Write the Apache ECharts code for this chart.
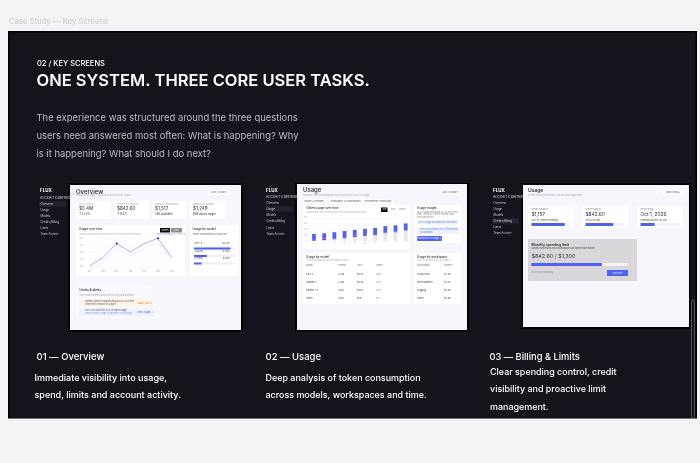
<!DOCTYPE html>
<html>
<head>
<meta charset="utf-8">
<style>
  html, body { margin: 0; padding: 0; background: #f4f3f6; }
  #main { width: 700px; height: 463px; }
</style>
<script src="https://cdn.jsdelivr.net/npm/echarts@6/dist/echarts.min.js"></script>
</head>
<body>
<div id="main"></div>
<script>
// slide copy
var bodyLines = ['The experience was structured around the three questions', 'users need answered most often: What is happening? Why', 'is it happening? What should I do next?'];
var overviewText = ['Immediate visibility into usage,', 'spend, limits and account activity.'];
var usageText = ['Deep analysis of token consumption', 'across models, workspaces and time.'];
var billingText = ['Clear spending control, credit', 'visibility and proactive limit', 'management.'];
var navItems = ['Overview', 'Usage', 'Models', 'Credits/Billing', 'Limits', 'Team Activity'];

// overview line chart
var lineMonths = ['Oct', 'Nov', 'Dec', 'Jan', 'Feb', 'Mar', 'Apr'];
var lineTokens = [100, 220, 420, 300, 420, 495, 220];
var lineLastPeriod = [30, 150, 350, 240, 350, 440, 170];
var lineTicks = [100, 200, 300, 400, 500];
var lineMarked = [2, 5];

// usage stacked bars
var barDays = ['1', '2', '3', '4', '5', '6', '7', '', '', ''];
var barBase = [5, 15, 30, 45, 65, 85, 100, 130, 145, 175];
var barCached = [25, 22, 15, 18, 22, 18, 18, 10, 12, 8];
var barTokens = [88, 92, 102, 104, 98, 100, 100, 108, 105, 110];

// progress bars, percent
var modelShare = [87, 31, 18];
var billingProgress = [85, 71, 36];
var limitProgress = [73];

// tables
var modelRows = [['GPT-5', '3.2M', '$252', '30%'], ['Claude 3', '2.8M', '$230', '27%'], ['Gemini 1.5', '1.6M', '$184', '22%'], ['Other', '1.4M', '$76', '9%']];
var workspaceRows = [['Production', '$3.8K'], ['Development', '$1.3K'], ['Staging', '$0.9K'], ['Other', '$0.6K']];

var FONT = 'Inter, "Noto Sans", sans-serif';
var BLUE = '#4f63f0';
var els = [], grids = [], xAxes = [], yAxes = [], series = [];

function rect(x, y, w, h, fill, r, z) {
    els.push({ type: 'rect', z: z || 0, shape: { x: x, y: y, width: w, height: h, r: r || 0 }, style: { fill: fill } });
}
function text(x, y, str, size, color, weight, align, glow) {
    els.push({
        type: 'text', z: 5, x: x, y: y,
        style: {
            text: str, fill: color, align: align || 'left', verticalAlign: 'middle',
            font: (weight || 400) + ' ' + size + 'px ' + FONT,
            shadowColor: glow ? '#000' : 'transparent', shadowBlur: glow ? 3 : 0
        }
    });
}
function progress(x, y, w, h, val, track) {
    var i = grids.length;
    grids.push({ left: x, top: y, width: w, height: h, containLabel: false });
    xAxes.push({ gridIndex: i, type: 'value', min: 0, max: 100, show: false });
    yAxes.push({ gridIndex: i, type: 'category', data: [''], show: false });
    series.push({
        type: 'bar', xAxisIndex: i, yAxisIndex: i, data: [val], barWidth: h, silent: true,
        showBackground: true, backgroundStyle: { color: track }, itemStyle: { color: BLUE }
    });
}
function sidebar(x, ys, active, hx, hw) {
    text(x, ys[0], 'FLUX', 4.5, '#fff', 700, 'left', true);
    text(x, ys[1], 'AI COST CONTROL', 3.5, '#c8c8d0', 500);
    navItems.forEach(function (n, i) {
        if (i === active) rect(hx, ys[i + 2] - 2.8, hw, 5.6, '#23232e', 1);
        text(x + 0.5, ys[i + 2], n, 2.8, '#d0d0d8');
    });
}

// page + panel
rect(8, 31, 689, 387.5, '#000');
rect(9.5, 32.5, 686, 385, '#14141c');
els.push({ type: 'rect', z: 1, shape: { x: 691.5, y: 300, width: 3, height: 118, r: 1.5 }, style: { fill: 'transparent', stroke: '#62626a', lineWidth: 0.8 } });
text(9, 21.5, 'Case Study \u2014 Key Screens', 7.7, '#c9c9cd');
text(37, 64, '02 / KEY SCREENS', 7.5, '#ffffff', 500, 'left', true);
text(36.5, 81.5, 'ONE SYSTEM. THREE CORE USER TASKS.', 16.5, '#ffffff', 600, 'left', true);
bodyLines.forEach(function (l, i) { text(36.5, 118 + i * 18, l, 9.45, '#bcbcc4', 400, 'left', true); });

text(36.5, 357, '01 \u2014 Overview', 9.5, '#ffffff', 500, 'left', true);
overviewText.forEach(function (l, i) { text(34.5, 378 + i * 17.5, l, 9, '#ffffff', 500, 'left', true); });
text(265.5, 357, '02 \u2014 Usage', 9.5, '#ffffff', 500, 'left', true);
usageText.forEach(function (l, i) { text(265.5, 378 + i * 17.5, l, 8.95, '#ffffff', 500, 'left', true); });
text(489.5, 357, '03 \u2014 Billing & Limits', 9.3, '#ffffff', 500, 'left', true);
billingText.forEach(function (l, i) { text(490, 372 + i * 17.5, l, 8.95, '#ffffff', 500, 'left', true); });

// ---- screen 1: overview
rect(68, 183.5, 175, 148.5, '#000');
rect(70, 185, 171, 145, '#f6f6fc');
sidebar(40, [191, 198, 204, 210, 216, 222, 228, 234], 0, 39, 27);
text(76, 192, 'Overview', 6, '#22222a', 500);
text(76, 195.5, 'Monitor AI usage, cost and activity across teams', 2.4, '#a8a8b4');
rect(208, 190, 22, 5, '#fff', 1);
text(219, 192.5, 'Last 30 days', 2.6, '#666', 400, 'center');

var kpiX = [76, 114, 152, 190];
var kpiLabels = ['TOTAL COST', 'COST THIS MONTH', 'CREDITS REMAINING', 'FORECAST SPEND'];
var kpiValues = ['$5.4M', '$842.60', '$1,517', '$1,249'];
var kpiNotes = ['\u2191 12.4%', '\u2191 9.4%', '285 available', '$48 above target'];
kpiX.forEach(function (x, i) {
    rect(x, 201, 35, 18, '#fff', 1);
    text(x + 3, 204.5, kpiLabels[i], 2.3, '#9a9aa6');
    text(x + 3, 209, kpiValues[i], 4.6, '#2a2a32');
    text(x + 3, 214, kpiNotes[i], 2.8, '#333');
});

rect(76, 225, 109, 51, '#fff', 1);
text(79, 229.5, 'Usage over time', 3, '#2a2a32', 500);
text(79, 234, 'Token consumption and cost over time across all active models', 2.1, '#b0b0ba');
rect(160, 228, 10, 4.6, '#000', 0.5);
text(165, 230.3, 'Tokens', 2.2, '#fff', 400, 'center');
rect(171, 228, 11, 4.6, '#8d8d8d', 0.5);
text(176.5, 230.3, 'Cost', 2.2, '#eee', 400, 'center');
text(156, 234, 'Current period', 2.1, '#7f89f5');
text(170, 234, 'Previous period', 2.1, '#b8b8c4');

// line chart
var lg = grids.length;
grids.push({ left: 89.3, top: 238, width: 82.3, height: 28 });
xAxes.push({
    gridIndex: lg, type: 'category', boundaryGap: false, data: lineMonths,
    axisLine: { show: false }, axisTick: { show: false },
    axisLabel: { fontSize: 2, color: '#a4a4b0', margin: 4, fontFamily: FONT, interval: 0 }
});
yAxes.push({
    gridIndex: lg, type: 'value', min: lineTicks[0], max: lineTicks[lineTicks.length - 1], interval: 100,
    axisLine: { show: false }, axisTick: { show: false },
    axisLabel: { fontSize: 2, color: '#b8b8c2', margin: 6, fontFamily: FONT },
    splitLine: { lineStyle: { color: '#f3f3f8', width: 0.5 } }
});
series.push({
    type: 'line', name: 'Previous', xAxisIndex: lg, yAxisIndex: lg, data: lineLastPeriod, clip: false, silent: true,
    symbol: 'none', lineStyle: { color: '#e6e7f7', width: 0.7 }
});
series.push({
    type: 'line', name: 'Tokens', xAxisIndex: lg, yAxisIndex: lg, data: lineTokens, clip: false, silent: true,
    symbol: 'circle', showAllSymbol: true,
    symbolSize: function (v, p) { return lineMarked.indexOf(p.dataIndex) >= 0 ? 2 : 0; },
    itemStyle: { color: '#16169a' }, lineStyle: { color: '#a0a6f7', width: 0.9 }
});

rect(190, 225, 48, 51, '#fff', 1);
text(192.5, 229.5, 'Usage by model', 3, '#2a2a32', 500);
text(192.5, 234, 'Token consumption by provider', 2.3, '#666');
var modelNames = ['GPT-5', 'Claude', 'Gemini'];
var modelCosts = ['$3.2K', '$1.8K', '$1.0K'];
var modelBarY = [247.5, 255, 262.5];
modelBarY.forEach(function (y, i) {
    text(194.5, y - 4, modelNames[i], 2.6, '#555');
    text(229.5, y - 4, modelCosts[i], 2.6, '#333', 400, 'right');
    progress(194, y, 42, 2, modelShare[i], '#eef0f8');
});

rect(76, 285, 76, 33, '#fafafe', 1);
text(79.5, 290, 'Limits & alerts', 3.2, '#2a2a32', 600);
text(79.5, 295, 'Recent limit and threshold events that need attention', 2.2, '#a0a0ac');
rect(79, 299, 73, 8, '#fff4e8');
text(85, 301.5, 'Monthly spend is approaching your $1,300 limit', 2.2, '#555');
text(85, 304.5, 'Projected to reach it in 6 days', 2.2, '#555');
text(137, 303, 'Adjust limit \u2192', 2.4, '#d08a3a');
rect(79, 308, 73, 8, '#eef3ff');
text(85, 310.5, 'GPT-5 accounts for 52% of token usage', 2.2, '#556');
text(85, 313.5, 'Review model usage to optimize cost savings', 2.2, '#8a96f0');
text(137, 312, 'View usage \u2192', 2.4, BLUE);

// ---- screen 2: usage
rect(295, 183, 174, 148.5, '#000');
rect(297, 184, 170, 146, '#f6f6fc');
sidebar(266, [190.5, 197, 203, 209, 215, 221.5, 228, 234], 1, 265, 28);
text(303, 190.5, 'Usage', 6, '#22222a', 500);
text(303, 195, 'Analyze token consumption and cost across your AI usage', 2.4, '#a8a8b4');
rect(439, 190, 22, 4, '#fff', 1);
text(450, 192, 'Last 30 days', 2.6, '#555', 400, 'center');
var chipX = [303, 329, 363], chipW = [22, 32, 30];
var chipLabels = ['Model: All models', 'Workspace: All workspaces', 'Environment: Production'];
chipLabels.forEach(function (c, i) {
    rect(chipX[i], 199, chipW[i], 4.5, '#fff', 1);
    text(chipX[i] + 1.5, 201.2, c, 2.3, '#555');
});

rect(303, 205, 107, 44, '#fff', 1);
text(306, 208.5, 'Token usage over time', 3, '#2a2a32', 500);
text(306, 212, 'Consumption trend showing daily tokens processed by model', 2.1, '#b0b0ba');
rect(381, 207.5, 6.5, 4.5, '#000', 0.5);
text(384.2, 209.8, '30d', 2.2, '#fff', 400, 'center');
text(393, 209.8, '90d', 2.2, '#888', 400, 'center');
text(402.5, 209.8, 'Month', 2.2, '#888', 400, 'center');

var bg = grids.length;
grids.push({ left: 308.9, top: 217, width: 101.9, height: 24 });
xAxes.push({
    gridIndex: bg, type: 'category', data: barDays,
    axisLine: { show: false }, axisTick: { show: false },
    axisLabel: { fontSize: 2, color: '#a4a4b0', margin: 1.5, fontFamily: FONT, interval: 0 }
});
yAxes.push({
    gridIndex: bg, type: 'value', min: 0, max: 400, interval: 100,
    axisLine: { show: false }, axisTick: { show: false },
    axisLabel: { fontSize: 2, color: '#b8b8c2', margin: 1.5, fontFamily: FONT },
    splitLine: { lineStyle: { color: '#f3f3f8', width: 0.5 } }
});
[[barBase, '#e8e8ee'], [barCached, '#7a3fe0'], [barTokens, BLUE]].forEach(function (s) {
    series.push({
        type: 'bar', stack: 'usage', xAxisIndex: bg, yAxisIndex: bg, data: s[0],
        barWidth: 3.8, silent: true, itemStyle: { color: s[1] }
    });
});

rect(414, 205, 47, 38, '#fff', 1);
text(417, 208.5, 'Usage insight', 3, '#2a2a32', 500);
text(417, 212, 'GPT-5 usage increased 18% over the last', 2.1, '#888');
text(417, 214.5, 'week, driven by a rise in internal tools', 2.1, '#888');
text(417, 217, 'and automations.', 2.1, '#888');
rect(417, 220, 40, 4.5, '#eef2ff', 1);
text(418.5, 222.2, 'GPT-5 usage increased 18% this month', 2.1, '#6a78ee');
rect(417, 227, 42, 7, '#eef2ff', 1);
text(420, 229.3, 'GPT-5 accounts for 52% of total token', 2.1, '#6a78ee');
text(420, 232, 'consumption', 2.1, '#6a78ee');
rect(417, 236, 25, 5, BLUE, 1);
text(429.5, 238.5, 'Review GPT-5 usage \u2192', 2.2, '#fff', 400, 'center');

rect(303, 253, 107, 51, '#fff', 1);
text(306, 257, 'Usage by model', 3, '#2a2a32', 500);
text(306, 260.5, 'Token consumption and cost split by model', 2.1, '#b0b0ba');
var modelCols = [306, 338, 357, 376];
['Model', 'Tokens', 'Cost', 'Share'].forEach(function (h, i) { text(modelCols[i], 265.7, h, 2.4, '#777'); });
modelRows.forEach(function (row, r) {
    row.forEach(function (c, i) { text(modelCols[i], 274 + r * 8, c, 2.5, i === 3 ? '#6a78ee' : '#444'); });
});
rect(414, 253, 47, 51, '#fff', 1);
text(417, 257, 'Usage by workspace', 3, '#2a2a32', 500);
text(417, 260.5, 'Token consumption by workspace', 2.1, '#b0b0ba');
text(417, 265.7, 'Workspace', 2.4, '#777');
text(444, 265.7, 'Tokens', 2.4, '#777');
workspaceRows.forEach(function (row, r) {
    text(417, 274 + r * 8, row[0], 2.5, '#444');
    text(444, 274 + r * 8, row[1], 2.5, '#444');
});

// ---- screen 3: billing
rect(521.5, 183.5, 169, 145.5, '#000');
rect(523, 185, 166, 142, '#f6f6fc');
sidebar(493, [190.7, 197, 202.7, 209, 215, 221, 227, 233], 3, 492, 27);
text(528, 190.7, 'Usage', 5, '#22222a', 500);
text(528, 195, 'Review credit and monitor your bills and usage limits', 2.2, '#a8a8b4');
rect(662, 190, 21, 5, '#fff', 1);
text(673, 192.5, 'Add Group \u25BE', 2.4, '#555', 400, 'center');

var billX = [528, 582, 637];
var billLabels = ['Credit balance', 'Month spend', 'Next billing'];
var billValues = ['$1,157', '$842.60', 'Oct 1, 2026'];
var billNotes = ['64% of credits remaining', 'of $1,300 limit', 'Estimated invoice: $1,206'];
billX.forEach(function (x, i) {
    rect(x, 206, 46, 22, '#fff', 1);
    text(x + 3.5, 209, billLabels[i], 2.4, '#888');
    text(x + 3.5, 214.3, billValues[i], 4.8, '#2a2a32');
    text(x + 3.5, 220, billNotes[i], 2.2, '#444');
    progress(x + 3.5, 223, 39, 3, billingProgress[i], '#eef3fd');
});

rect(528, 239, 109, 42, '#d9d7da', 1);
text(531.5, 244.5, 'Monthly spending limit', 3.4, '#26262c', 600);
text(531.5, 248, 'Control how much your workspace can spend each month', 2.3, '#444');
text(531.5, 256, '$842.60 / $1,300', 5.4, '#3a3a42');
progress(531.3, 263, 96.7, 3, limitProgress[0], '#f3f3f8');
text(531.5, 272.7, '$457.40 remaining', 2.4, '#888');
rect(607, 270, 21, 6, BLUE);
text(617.5, 273, 'Edit limit', 2.4, '#e8eaff', 400, 'center');

var chart = echarts.init(document.getElementById('main'), null, { renderer: 'canvas' });
chart.setOption({
    animation: false,
    backgroundColor: '#f4f3f6',
    tooltip: { show: false },
    graphic: { elements: els },
    grid: grids,
    xAxis: xAxes,
    yAxis: yAxes,
    series: series
});
</script>
</body>
</html>
